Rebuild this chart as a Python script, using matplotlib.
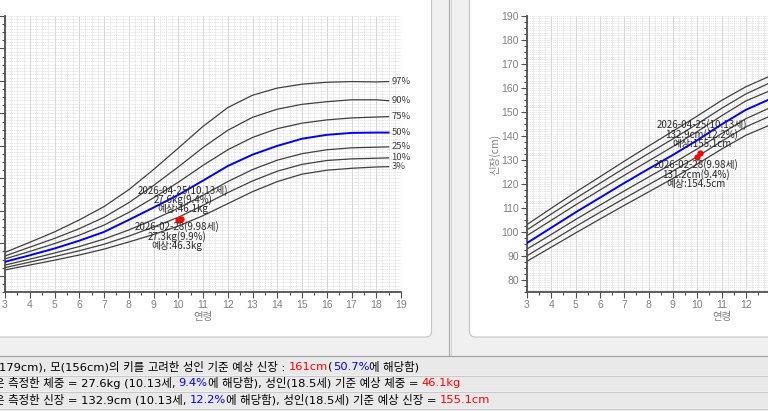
import numpy as np
import matplotlib
matplotlib.use('Agg')
import matplotlib.pyplot as plt
from matplotlib.patches import FancyBboxPatch, Rectangle
from matplotlib.ticker import MultipleLocator, FuncFormatter

plt.rcParams['font.family'] = ['Noto Sans CJK KR', 'DejaVu Sans']

W, H = 768, 411

# 데이터
ages = [3, 4, 5, 6, 7, 8, 9, 10, 11, 12, 13, 14, 15, 16, 17, 18, 18.5]
pct_labels = ['97%', '90%', '75%', '50%', '25%', '10%', '3%']

weight_97 = [17.2, 20.3, 23.5, 27.2, 31.3, 36.5, 42.7, 49.3, 56.0, 61.8, 65.6, 67.8, 69.0, 69.6, 69.8, 69.7, 69.8]
weight_90 = [16.1, 18.8, 21.5, 24.5, 28.0, 32.5, 37.8, 43.5, 49.5, 54.8, 58.8, 61.3, 62.8, 63.6, 64.2, 64.2, 63.9]
weight_75 = [15.2, 17.5, 19.9, 22.5, 25.6, 29.5, 34.0, 38.8, 44.0, 48.8, 52.6, 55.3, 57.0, 58.0, 58.6, 58.9, 59.0]
weight_50 = [14.3, 16.3, 18.4, 20.8, 23.5, 27.2, 31.0, 34.9, 39.3, 43.8, 47.3, 50.0, 52.2, 53.4, 54.0, 54.1, 54.1]
weight_25 = [13.3, 15.1, 17.0, 19.0, 21.3, 24.1, 27.3, 30.8, 34.8, 39.0, 42.7, 45.6, 47.6, 48.8, 49.4, 49.6, 49.7]
weight_10 = [12.5, 14.2, 15.9, 17.7, 19.7, 22.2, 25.0, 28.0, 31.7, 35.6, 39.2, 42.2, 44.3, 45.5, 46.0, 46.2, 46.3]
weight_3 = [11.8, 13.3, 14.8, 16.4, 18.2, 20.4, 22.7, 25.3, 28.5, 32.2, 35.9, 39.0, 41.3, 42.5, 43.1, 43.5, 43.6]

height_97 = [103.1, 109.9, 116.6, 123.0, 129.5, 135.8, 142.0, 148.3, 154.8, 160.5, 165.0, 167.4, 168.6, 169.2, 169.5, 169.7, 169.8]
height_90 = [100.9, 107.5, 114.0, 120.3, 126.6, 132.7, 138.8, 145.0, 151.5, 157.5, 162.2, 164.6, 165.8, 166.4, 166.8, 167.0, 167.1]
height_75 = [98.5, 104.9, 111.3, 117.5, 123.6, 129.6, 135.6, 141.8, 148.4, 154.6, 158.9, 161.4, 162.6, 163.2, 163.6, 163.8, 163.9]
height_50 = [95.4, 101.8, 108.2, 114.3, 120.4, 126.3, 132.1, 138.2, 144.8, 150.9, 155.4, 157.9, 159.2, 159.8, 160.2, 160.4, 160.5]
height_25 = [92.9, 99.0, 105.2, 111.2, 117.1, 122.9, 128.6, 134.6, 141.0, 147.2, 151.8, 154.4, 155.7, 156.3, 156.7, 156.9, 157.0]
height_10 = [90.1, 96.2, 102.3, 108.2, 114.0, 119.7, 125.4, 131.4, 137.8, 143.8, 148.3, 151.0, 152.4, 153.0, 153.4, 153.6, 153.7]
height_3 = [87.8, 93.7, 99.6, 105.4, 111.1, 116.7, 122.3, 128.3, 134.5, 140.3, 144.6, 147.5, 149.0, 149.7, 150.1, 150.3, 150.4]

weight_curves = [weight_97, weight_90, weight_75, weight_50, weight_25, weight_10, weight_3]
height_curves = [height_97, height_90, height_75, height_50, height_25, height_10, height_3]

visit_ages = [9.98, 10.13]
visit_weight = [27.3, 27.6]
visit_height = [131.2, 132.9]
weight_notes = [['2026-02-28(9.98세)', '27.3kg(9.9%)', '예상:46.3kg'],
                ['2026-04-25(10.13세)', '27.6kg(9.4%)', '예상:46.1kg']]
height_notes = [['2026-02-28(9.98세)', '131.2cm(9.4%)', '예상:154.5cm'],
                ['2026-04-25(10.13세)', '132.9cm(12.2%)', '예상:155.1cm']]

row1 = [('179cm), 모(156cm)의 키를 고려한 성인 기준 예상 신장 : ', 'black'), ('161cm', 'red'),
        ('(', 'black'), ('50.7%', 'blue'), ('에 해당함)', 'black')]
row2 = [('은 측정한 체중 = 27.6kg (10.13세, ', 'black'), ('9.4%', 'blue'),
        ('에 해당함), 성인(18.5세) 기준 예상 체중 = ', 'black'), ('46.1kg', 'red')]
row3 = [('은 측정한 신장 = 132.9cm (10.13세, ', 'black'), ('12.2%', 'blue'),
        ('에 해당함), 성인(18.5세) 기준 예상 신장 = ', 'black'), ('155.1cm', 'red')]
row_font = ['DejaVu Sans', 'Noto Sans CJK KR']

fig = plt.figure(figsize=(W / 100, H / 100), dpi=100, facecolor='#f0f0f0')

# 배경 (픽셀 좌표)
bg = fig.add_axes([0, 0, 1, 1])
bg.set_xlim(0, W)
bg.set_ylim(H, 0)
bg.axis('off')

bg.add_patch(FancyBboxPatch((-30, -30), 461.5, 367, boxstyle='round,pad=0,rounding_size=6',
                            fc='white', ec='#c4c4c4', lw=0.8))
bg.add_patch(FancyBboxPatch((469.5, -30), 400, 367, boxstyle='round,pad=0,rounding_size=6',
                            fc='white', ec='#c4c4c4', lw=0.8))
bg.plot([449, 449], [-1, 356], color='#a8a8a8', lw=0.8)
bg.plot([451, 451], [-1, 356], color='#d4d4d4', lw=0.8)
bg.plot([0, W], [356, 356], color='#a0a0a0', lw=0.8)
for top, bottom in [(357, 375), (376.5, 391), (392.5, 408)]:
    bg.add_patch(Rectangle((-1, top), W + 2, bottom - top, fc='#e9e9e9', ec='none'))
    bg.plot([0, W], [bottom + 0.5, bottom + 0.5], color='#c8c8c8', lw=0.7)

renderer = fig.canvas.get_renderer()


def text_width(s, size):
    t = bg.text(0, 0, s + 'l', fontsize=size, family=row_font)
    w = t.get_window_extent(renderer).width
    t.remove()
    return w


def colored_line(x0, y, parts, size=8.25):
    base = text_width('', size)
    prefix = ''
    for s, c in parts:
        x = x0 + text_width(prefix, size) - base
        bg.text(x, y, s, color=c, fontsize=size, va='center', ha='left', family=row_font)
        prefix += s


colored_line(-1, 366.5, row1)
colored_line(-6.5, 383, row2)
colored_line(-6.5, 399.5, row3)


def style(ax, ymin, ymax):
    ax.set_xlim(3, 19)
    ax.set_ylim(ymin, ymax)
    ax.set_facecolor('none')
    for s in ['top', 'right']:
        ax.spines[s].set_visible(False)
    for s in ['left', 'bottom']:
        ax.spines[s].set_color('#505050')
        ax.spines[s].set_linewidth(1.3)
    ax.xaxis.set_major_locator(MultipleLocator(1))
    ax.xaxis.set_minor_locator(MultipleLocator(0.5))
    ax.yaxis.set_major_locator(MultipleLocator(10))
    ax.yaxis.set_minor_locator(MultipleLocator(2.5))
    ax.tick_params(which='major', length=4, width=0.8, color='#505050', labelsize=7.5,
                   labelcolor='#808080', pad=2, labelfontfamily='Liberation Sans')
    ax.tick_params(which='minor', length=2.5, width=0.8, color='#505050')
    ax.vlines(np.arange(3, 19.01, 0.25), ymin, ymax, colors='#dcdcdc', lw=0.5,
              linestyles=(0, (2, 1)), zorder=0)
    ax.vlines(np.arange(3, 19.01, 1), ymin, ymax, colors='#cecece', lw=0.5, zorder=0)
    ax.hlines(np.arange(ymin, ymax + 0.01, 1), 3, 19, colors='#dedede', lw=0.5,
              linestyles=(0, (2, 1)), zorder=0)
    ax.set_xlabel('연령', color='#808080', fontsize=7.5, labelpad=1)


def draw(ax, curves, vals, notes, with_labels):
    for lbl, c in zip(pct_labels, curves):
        if lbl == '50%':
            ax.plot(ages, c, color='#0000ff', lw=1.4, zorder=3)
        else:
            ax.plot(ages, c, color='#404040', lw=0.9, zorder=2)
        if with_labels:
            ax.text(18.62, c[-1], lbl, fontsize=6.8, color='#404040', va='center', ha='left')
    ax.plot(visit_ages, vals, color='red', marker='o', ms=3.5, lw=1, zorder=5)
    offsets = [[-7.3, -17, -26.5], [28.5, 19, 9.4]]
    dx = [-0.8, 1.3]
    for i in range(2):
        for line, off in zip(notes[i], offsets[i]):
            ax.annotate(line, (visit_ages[i], vals[i]), xytext=(dx[i], off),
                        textcoords='offset pixels', ha='center', va='center',
                        fontsize=7, color='#282828', zorder=6)


axw = fig.add_axes([5 / W, 1 - 292 / H, 396 / W, 276 / H])
style(axw, 5, 90)
axw.tick_params(axis='y', labelleft=False)
draw(axw, weight_curves, visit_weight, weight_notes, True)

axh = fig.add_axes([527 / W, 1 - 292 / H, 389 / W, 276 / H])
style(axh, 75, 190)
# 화면 밖으로 잘리는 눈금 글자는 표시하지 않음
axh.xaxis.set_major_formatter(FuncFormatter(lambda v, p: f'{v:.0f}' if v < 12.5 else ''))
axh.set_ylabel('신장(cm)', color='#808080', fontsize=7.5, labelpad=0.5)
draw(axh, height_curves, visit_height, height_notes, False)

fig.savefig('out.png', dpi=100, facecolor=fig.get_facecolor())
